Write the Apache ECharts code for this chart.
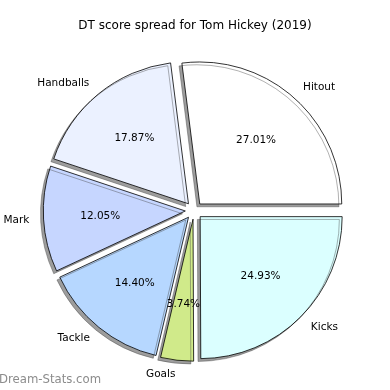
<!DOCTYPE html>
<html>
<head>
<meta charset="utf-8">
<script src="https://cdn.jsdelivr.net/npm/echarts@6/dist/echarts.min.js"></script>
<style>html,body{margin:0;padding:0;background:#fff}#c{width:390px;height:390px}</style>
</head>
<body>
<div id="c"></div>
<script>
const categories = ["Hitout", "Handballs", "Mark", "Tackle", "Goals", "Kicks"];
const percents = [27.01, 17.87, 12.05, 14.40, 3.74, 24.93];
const colors = ["#ffffff", "#ebf1ff", "#c6d6ff", "#b6d7ff", "#d0ea8a", "#dbffff"];

const R = 142;
const CENTER = [194, 210.5];
const OFFSET = 8.7;
const FONT = "DejaVu Sans";

const sliceData = categories.map((n, i) => ({
  name: n, value: percents[i], selected: true,
  itemStyle: { color: colors[i] }
}));
const labelData = categories.map((n, i) => ({
  name: n, value: percents[i], selected: true
}));

const chart = echarts.init(document.getElementById('c'), null, { renderer: 'canvas' });
chart.setOption({
  animation: false,
  backgroundColor: '#ffffff',
  title: [
    { text: 'DT score spread for Tom Hickey (2019)', left: 'center', top: 20, padding: 0,
      textStyle: { fontFamily: FONT, fontSize: 12, fontWeight: 'normal', color: '#000' } },
    { text: 'Dream-Stats.com', left: -1, top: 374, padding: 0,
      textStyle: { fontFamily: FONT, fontSize: 11.7, fontWeight: 'normal', color: '#8c8c8c' } }
  ],
  series: [
    {
      type: 'pie', center: CENTER, radius: [0, R],
      startAngle: 0, clockwise: false,
      selectedMode: 'multiple', selectedOffset: OFFSET,
      avoidLabelOverlap: false, silent: true,
      data: sliceData,
      itemStyle: { borderColor: '#000', borderWidth: 0.8,
        shadowColor: 'rgba(60,60,60,0.5)', shadowBlur: 0, shadowOffsetX: -2.8, shadowOffsetY: 2.8 },
      label: { show: true, position: 'outside', formatter: '{b}', distanceToLabelLine: 0,
        fontFamily: FONT, fontSize: 10.5, color: '#000' },
      labelLine: { show: false, length: 0.1 * R, length2: 0 },
      select: { itemStyle: {} },
      emphasis: { disabled: true }
    },
    {
      type: 'pie', center: CENTER, radius: [0, 2 * (0.6 * R - 3)],
      startAngle: 0, clockwise: false,
      selectedMode: 'multiple', selectedOffset: OFFSET,
      avoidLabelOverlap: false, silent: true,
      data: labelData,
      itemStyle: { color: 'rgba(0,0,0,0)', borderWidth: 0 },
      label: { show: true, position: 'inside',
        formatter: p => p.value.toFixed(2) + '%',
        fontFamily: FONT, fontSize: 10.5, color: '#000' },
      labelLine: { show: false },
      emphasis: { disabled: true }
    }
  ]
});
</script>
</body>
</html>
